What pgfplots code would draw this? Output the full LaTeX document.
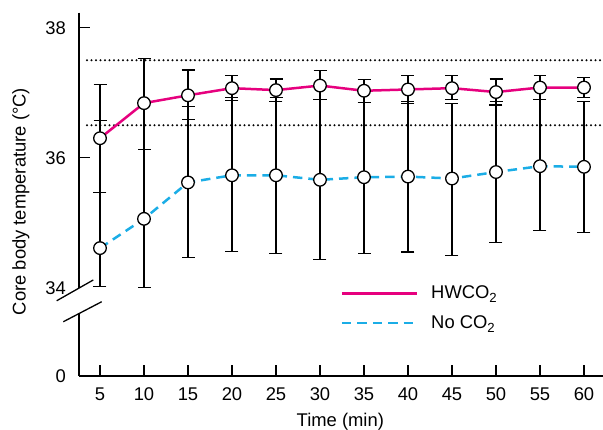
\documentclass[border=0pt]{standalone}
\usepackage{pgfplots}
\usepackage{pgfplotstable}
\pgfplotsset{compat=1.18}
\usepackage{fontspec}
\setmainfont{Liberation Sans}
\definecolor{hwpink}{HTML}{E6007E}
\definecolor{nocyan}{HTML}{1BADE6}
\newcommand{\sub}[1]{\raisebox{-0.45ex}{\fontsize{6.6}{7}\selectfont #1}}

% time, mean, error up, error down
\pgfplotstableread{
x y ep em
5 36.30 0.83 0.83
10 36.84 0.69 0.71
15 36.96 0.39 0.37
20 37.07 0.19 0.19
25 37.04 0.17 0.17
30 37.11 0.23 0.21
35 37.03 0.17 0.18
40 37.05 0.21 0.21
45 37.07 0.19 0.17
50 37.01 0.20 0.20
55 37.08 0.18 0.18
60 37.08 0.15 0.15
}\hwco

\pgfplotstableread{
x y ep em
5 34.61 1.96 0.59
10 35.06 1.78 1.05
15 35.62 1.165 1.15
20 35.73 1.20 1.17
25 35.73 1.20 1.20
30 35.66 1.24 1.23
35 35.70 1.15 1.17
40 35.71 1.16 1.16
45 35.68 1.16 1.18
50 35.78 1.09 1.09
55 35.87 1.03 0.99
60 35.86 1.01 1.01
}\noco

\begin{document}
\begin{tikzpicture}[font=\fontsize{9.2}{11}\selectfont]
\begin{axis}[
  scale only axis, width=262pt, height=181.65pt,
  xmin=2.614, xmax=62.16, ymin=32.642, ymax=38.23,
  axis x line*=bottom, axis y line*=left,
  axis line style={-, line width=0.65pt},
  y axis line style={draw=none},
  xtick={5,10,...,60}, ytick={36,38},
  extra y ticks={32.642,34}, extra y tick labels={0,34},
  extra y tick style={major tick length=0pt},
  tick align=inside, major tick length=5.5pt,
  tick style={black, line width=0.65pt},
  /pgf/number format/assume math mode=true,
  yticklabel style={xshift=-3pt},
  xticklabel style={yshift=-2.3pt},
  xlabel={Time (min)},
  ylabel={Core body temperature (°C)},
  xlabel style={at={(axis cs:32.31,31.872)}, anchor=base},
  ylabel style={at={(axis cs:-3.443,35.326)}, anchor=base},
  clip=false,
  legend style={draw=none, fill=none, at={(axis cs:31.63,34.166)}, anchor=north west,
    row sep=3pt, cells={anchor=west},
    /tikz/every odd column/.append style={column sep=4.5pt}},
  legend image code/.code={\draw[#1] (0pt,0pt) -- (37.5pt,0pt);},
]
% reference band
\addplot[black, line width=1.15pt, dash pattern=on 0pt off 2.25pt, line cap=round, forget plot]
  coordinates {(3.52,37.5) (62.16,37.5)};
\addplot[black, line width=1.15pt, dash pattern=on 0pt off 2.25pt, line cap=round, forget plot]
  coordinates {(3.52,36.5) (62.16,36.5)};
% error bars
\addplot[draw=none, forget plot, error bars/.cd, y dir=both, y explicit,
  error bar style={draw=black, line width=0.6pt},
  error mark options={rotate=90, mark size=3.25pt, line width=0.6pt, draw=black}]
  table[x=x, y=y, y error plus=ep, y error minus=em] {\noco};
\addplot[draw=none, forget plot, error bars/.cd, y dir=both, y explicit,
  error bar style={draw=black, line width=0.6pt},
  error mark options={rotate=90, mark size=3.25pt, line width=0.6pt, draw=black}]
  table[x=x, y=y, y error plus=ep, y error minus=em] {\hwco};
% lines
\addplot[nocyan, line width=1.25pt, dash pattern=on 4.7pt off 3pt, forget plot] table[x=x, y=y] {\noco};
\addplot[hwpink, line width=1.25pt, forget plot] table[x=x, y=y] {\hwco};
% markers
\addplot[only marks, mark=*, mark size=3.15pt, mark options={fill=white, draw=black, line width=0.65pt}, forget plot]
  table[x=x, y=y] {\noco};
\addplot[only marks, mark=*, mark size=3.15pt, mark options={fill=white, draw=black, line width=0.65pt}, forget plot]
  table[x=x, y=y] {\hwco};
% legend
\addlegendimage{hwpink, line width=1.25pt}
\addlegendentry{HWCO\sub{2}}
\addlegendimage{nocyan, line width=1.25pt, dash pattern=on 4.7pt off 3pt}
\addlegendentry{No CO\sub{2}}
% y axis with break
\draw[line width=0.65pt] (axis cs:2.614,38.23) -- (axis cs:2.614,34.0);
\draw[line width=0.65pt] (axis cs:2.614,33.60) -- (axis cs:2.614,32.642);
\draw[line width=0.65pt] (axis cs:0.08,33.80) -- (axis cs:4.24,34.12);
\draw[line width=0.65pt] (axis cs:0.83,33.477) -- (axis cs:5.19,33.785);
\coordinate (bl) at (axis cs:-6.364,31.826);
\coordinate (tr) at (axis cs:62.16,38.426);
\end{axis}
\pgfresetboundingbox
\path (bl) rectangle (tr);
\end{tikzpicture}
\end{document}
